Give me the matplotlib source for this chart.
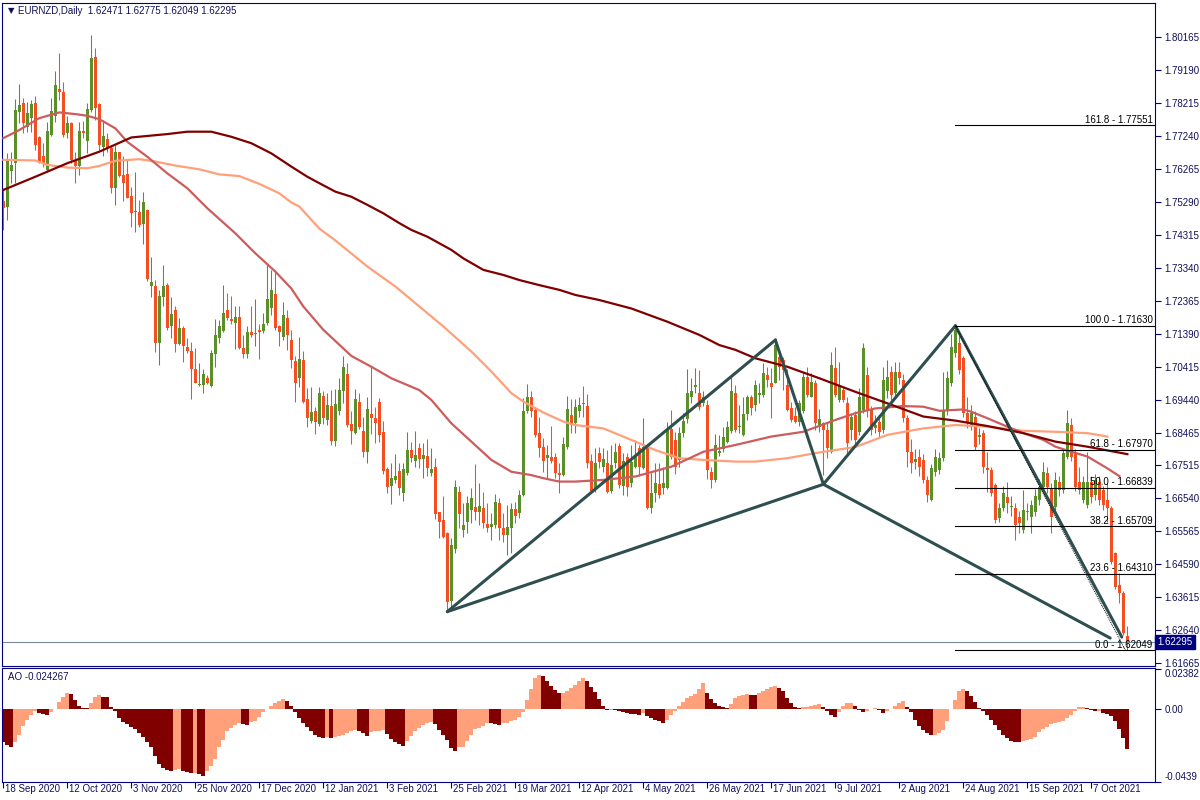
import numpy as np
import matplotlib.pyplot as plt
from matplotlib.transforms import blended_transform_factory

plt.rcParams['font.family'] = ['Liberation Sans', 'DejaVu Sans']

# ---------------- data (EURNZD daily, bar index 0 = 18 Sep 2020) ----------------
opens = [
    1.7530, 1.7515, 1.7621, 1.7643, 1.7793, 1.7820, 1.7751, 1.7776, 1.7820, 1.7720,
    1.7665, 1.7623, 1.7727, 1.7781, 1.7862, 1.7852, 1.7732, 1.7761, 1.7653, 1.7636,
    1.7738, 1.7710, 1.7800, 1.7956, 1.7817, 1.7692, 1.7714, 1.7687, 1.7569, 1.7675,
    1.7607, 1.7610, 1.7546, 1.7498, 1.7500, 1.7464, 1.7505, 1.7281, 1.7279, 1.7111,
    1.7249, 1.7283, 1.7161, 1.7210, 1.7109, 1.7156, 1.7100, 1.7089, 1.7035, 1.6988,
    1.6988, 1.7008, 1.6985, 1.7080, 1.7126, 1.7149, 1.7210, 1.7183, 1.7172, 1.7190,
    1.7097, 1.7079, 1.7144, 1.7139, 1.7151, 1.7149, 1.7172, 1.7215, 1.7257, 1.7161,
    1.7131, 1.7185, 1.7121, 1.7059, 1.7010, 1.7062, 1.6947, 1.6883, 1.6912, 1.6873,
    1.6956, 1.6885, 1.6927, 1.6824, 1.6910, 1.6971, 1.7021, 1.6872, 1.6847, 1.6937,
    1.6853, 1.6791, 1.6903, 1.6890, 1.6937, 1.6850, 1.6740, 1.6690, 1.6708, 1.6735,
    1.6670, 1.6728, 1.6796, 1.6764, 1.6801, 1.6769, 1.6779, 1.6728, 1.6745, 1.6614,
    1.6590, 1.6552, 1.6349, 1.6503, 1.6672, 1.6560, 1.6585, 1.6619, 1.6629, 1.6614,
    1.6626, 1.6578, 1.6570, 1.6575, 1.6641, 1.6567, 1.6545, 1.6567, 1.6622, 1.6611,
    1.6664, 1.6910, 1.6954, 1.6915, 1.6846, 1.6806, 1.6774, 1.6777, 1.6775, 1.6728,
    1.6723, 1.6804, 1.6900, 1.6875, 1.6910, 1.6936, 1.6926, 1.6764, 1.6678, 1.6787,
    1.6747, 1.6757, 1.6676, 1.6759, 1.6808, 1.6691, 1.6775, 1.6698, 1.6747, 1.6801,
    1.6742, 1.6804, 1.6624, 1.6668, 1.6696, 1.6683, 1.6683, 1.6857, 1.6826, 1.6767,
    1.6846, 1.6887, 1.6954, 1.6983, 1.6966, 1.6934, 1.6929, 1.6732, 1.6708, 1.6787,
    1.6798, 1.6821, 1.6853, 1.6964, 1.6863, 1.6841, 1.6902, 1.6954, 1.6929, 1.6959,
    1.6959, 1.7018, 1.6995, 1.6995, 1.7072, 1.7062, 1.6988, 1.6919, 1.6897, 1.6880,
    1.6910, 1.7013, 1.6954, 1.6993, 1.6865, 1.6877, 1.6855, 1.6791, 1.7037, 1.6944,
    1.6973, 1.6936, 1.6855, 1.6900, 1.6850, 1.6914, 1.7018, 1.6914, 1.6860, 1.6880,
    1.6855, 1.6969, 1.7028, 1.6964, 1.7028, 1.7003, 1.6890, 1.6791, 1.6762, 1.6777,
    1.6767, 1.6708, 1.6649, 1.6732, 1.6737, 1.6772, 1.6914, 1.6993, 1.7082, 1.7111,
    1.7067, 1.6905, 1.6870, 1.6895, 1.6836, 1.6846, 1.6742, 1.6737, 1.6693, 1.6595,
    1.6624, 1.6658, 1.6627, 1.6624, 1.6599, 1.6560, 1.6616, 1.6599, 1.6614, 1.6649,
    1.6688, 1.6727, 1.6683, 1.6629, 1.6703, 1.6678, 1.6777, 1.6870, 1.6786, 1.6703,
    1.6649, 1.6634, 1.6703, 1.6663, 1.6703, 1.6678, 1.6649, 1.6624, 1.6491, 1.6398,
    1.6373, 1.62471,
]
highs = [
    1.7569, 1.7672, 1.7677, 1.7832, 1.7877, 1.7835, 1.7825, 1.7830, 1.7842, 1.7722,
    1.7702, 1.7766, 1.7835, 1.7914, 1.7968, 1.7882, 1.7781, 1.7766, 1.7677, 1.7766,
    1.7768, 1.7820, 1.8022, 1.7982, 1.7820, 1.7771, 1.7731, 1.7697, 1.7697, 1.7677,
    1.7665, 1.7651, 1.7574, 1.7618, 1.7535, 1.7559, 1.7507, 1.7367, 1.7298, 1.7269,
    1.7343, 1.7289, 1.7249, 1.7220, 1.7185, 1.7161, 1.7126, 1.7116, 1.7097, 1.7052,
    1.7035, 1.7018, 1.7092, 1.7182, 1.7180, 1.7284, 1.7259, 1.7251, 1.7222, 1.7220,
    1.7136, 1.7161, 1.7220, 1.7241, 1.7168, 1.7200, 1.7348, 1.7328, 1.7328, 1.7166,
    1.7234, 1.7210, 1.7151, 1.7074, 1.7131, 1.7090, 1.6978, 1.6983, 1.6924, 1.6983,
    1.6969, 1.6966, 1.6973, 1.6976, 1.7008, 1.7074, 1.7052, 1.6912, 1.6976, 1.6964,
    1.6895, 1.6954, 1.7042, 1.6924, 1.6949, 1.6882, 1.6747, 1.6757, 1.6785, 1.6757,
    1.6757, 1.6848, 1.6819, 1.6851, 1.6816, 1.6816, 1.6828, 1.6801, 1.6774, 1.6614,
    1.6659, 1.6555, 1.6536, 1.6708, 1.6690, 1.6639, 1.6659, 1.6683, 1.6755, 1.6698,
    1.6673, 1.6639, 1.6609, 1.6665, 1.6654, 1.6609, 1.6634, 1.6639, 1.6644, 1.6678,
    1.6951, 1.6991, 1.6969, 1.6924, 1.6895, 1.6831, 1.6811, 1.6867, 1.6787, 1.6757,
    1.6836, 1.6956, 1.6947, 1.6946, 1.6954, 1.6985, 1.6962, 1.6784, 1.6801, 1.6806,
    1.6801, 1.6796, 1.6811, 1.6818, 1.6816, 1.6787, 1.6787, 1.6811, 1.6826, 1.6811,
    1.6890, 1.6811, 1.6727, 1.6759, 1.6757, 1.6747, 1.6880, 1.6914, 1.6850, 1.6863,
    1.6905, 1.7034, 1.7008, 1.7037, 1.7031, 1.6969, 1.6944, 1.6747, 1.6844, 1.6841,
    1.6863, 1.6883, 1.7013, 1.6988, 1.6929, 1.6954, 1.6959, 1.6959, 1.7003, 1.6995,
    1.7052, 1.7042, 1.7037, 1.7121, 1.7092, 1.7072, 1.7034, 1.6939, 1.6924, 1.6944,
    1.7028, 1.7042, 1.7023, 1.7003, 1.6916, 1.6880, 1.6875, 1.7087, 1.7101, 1.7057,
    1.6983, 1.6952, 1.6903, 1.6910, 1.6980, 1.7111, 1.7040, 1.6925, 1.6900, 1.6900,
    1.7040, 1.7062, 1.7045, 1.7055, 1.7057, 1.7020, 1.6900, 1.6830, 1.6800, 1.6800,
    1.6785, 1.6720, 1.6755, 1.6800, 1.6790, 1.7028, 1.7030, 1.7140, 1.7163, 1.7140,
    1.7075, 1.6954, 1.6930, 1.6910, 1.6860, 1.6855, 1.6791, 1.6745, 1.6700, 1.6640,
    1.6690, 1.6703, 1.6660, 1.6640, 1.6615, 1.6678, 1.6640, 1.6650, 1.6680, 1.6710,
    1.6762, 1.6745, 1.6700, 1.6730, 1.6720, 1.6800, 1.6914, 1.6890, 1.6800, 1.6747,
    1.6720, 1.6791, 1.6720, 1.6725, 1.6720, 1.6690, 1.6698, 1.6630, 1.6495, 1.6432,
    1.6380, 1.62775,
]
lows = [
    1.7446, 1.7475, 1.7584, 1.7584, 1.7763, 1.7731, 1.7736, 1.7736, 1.7682, 1.7643,
    1.7633, 1.7618, 1.7722, 1.7766, 1.7830, 1.7720, 1.7717, 1.7645, 1.7584, 1.7608,
    1.7717, 1.7672, 1.7795, 1.7771, 1.7682, 1.7663, 1.7677, 1.7554, 1.7520, 1.7603,
    1.7530, 1.7539, 1.7456, 1.7441, 1.7456, 1.7405, 1.7296, 1.7249, 1.7085, 1.7047,
    1.7220, 1.7151, 1.7126, 1.7087, 1.7106, 1.7057, 1.7082, 1.6946, 1.6993, 1.6986,
    1.6966, 1.6991, 1.6981, 1.7041, 1.7111, 1.7146, 1.7180, 1.7168, 1.7094, 1.7094,
    1.7067, 1.7067, 1.7131, 1.7104, 1.7064, 1.7141, 1.7166, 1.7195, 1.7151, 1.7104,
    1.7121, 1.7092, 1.7037, 1.6939, 1.6981, 1.6936, 1.6863, 1.6875, 1.6843, 1.6867,
    1.6872, 1.6870, 1.6811, 1.6809, 1.6900, 1.6936, 1.6865, 1.6813, 1.6844, 1.6857,
    1.6777, 1.6757, 1.6844, 1.6818, 1.6821, 1.6726, 1.6668, 1.6636, 1.6700, 1.6664,
    1.6647, 1.6721, 1.6762, 1.6745, 1.6742, 1.6713, 1.6718, 1.6718, 1.6592, 1.6536,
    1.6536, 1.6319, 1.6324, 1.6491, 1.6565, 1.6539, 1.6550, 1.6580, 1.6590, 1.6575,
    1.6565, 1.6555, 1.6531, 1.6565, 1.6531, 1.6526, 1.6486, 1.6491, 1.6580, 1.6595,
    1.6659, 1.6905, 1.6895, 1.6836, 1.6777, 1.6732, 1.6713, 1.6757, 1.6713, 1.6668,
    1.6720, 1.6798, 1.6845, 1.6846, 1.6895, 1.6895, 1.6742, 1.6673, 1.6673, 1.6742,
    1.6732, 1.6668, 1.6668, 1.6742, 1.6683, 1.6664, 1.6661, 1.6688, 1.6742, 1.6718,
    1.6739, 1.6621, 1.6609, 1.6644, 1.6654, 1.6667, 1.6680, 1.6769, 1.6726, 1.6747,
    1.6836, 1.6875, 1.6936, 1.6964, 1.6914, 1.6926, 1.6710, 1.6685, 1.6703, 1.6779,
    1.6791, 1.6816, 1.6846, 1.6850, 1.6846, 1.6838, 1.6885, 1.6900, 1.6910, 1.6934,
    1.6954, 1.6983, 1.6890, 1.6993, 1.7003, 1.6973, 1.6912, 1.6880, 1.6875, 1.6867,
    1.6905, 1.6954, 1.6952, 1.6855, 1.6850, 1.6723, 1.6772, 1.6787, 1.6954, 1.6939,
    1.6939, 1.6782, 1.6826, 1.6811, 1.6840, 1.6905, 1.6895, 1.6840, 1.6845, 1.6835,
    1.6845, 1.6950, 1.6945, 1.6950, 1.6990, 1.6880, 1.6747, 1.6727, 1.6740, 1.6718,
    1.6700, 1.6644, 1.6645, 1.6720, 1.6725, 1.6765, 1.6900, 1.6985, 1.7070, 1.7020,
    1.6895, 1.6860, 1.6855, 1.6795, 1.6815, 1.6727, 1.6673, 1.6660, 1.6580, 1.6585,
    1.6615, 1.6609, 1.6600, 1.6531, 1.6550, 1.6550, 1.6590, 1.6550, 1.6600, 1.6635,
    1.6680, 1.6670, 1.6550, 1.6610, 1.6660, 1.6670, 1.6770, 1.6765, 1.6675, 1.6665,
    1.6640, 1.6625, 1.6640, 1.6650, 1.6635, 1.6620, 1.6585, 1.6460, 1.6385, 1.6344,
    1.6250, 1.62049,
]
closes = [
    1.7512, 1.7653, 1.7638, 1.7800, 1.7815, 1.7763, 1.7790, 1.7818, 1.7697, 1.7648,
    1.7643, 1.7738, 1.7797, 1.7874, 1.7852, 1.7727, 1.7761, 1.7651, 1.7636, 1.7738,
    1.7733, 1.7802, 1.7955, 1.7805, 1.7697, 1.7724, 1.7687, 1.7569, 1.7677, 1.7605,
    1.7586, 1.7541, 1.7497, 1.7501, 1.7461, 1.7528, 1.7300, 1.7293, 1.7111, 1.7251,
    1.7279, 1.7156, 1.7198, 1.7109, 1.7156, 1.7104, 1.7090, 1.7035, 1.6995, 1.6991,
    1.7021, 1.6995, 1.7084, 1.7136, 1.7163, 1.7200, 1.7187, 1.7177, 1.7190, 1.7097,
    1.7079, 1.7144, 1.7136, 1.7142, 1.7146, 1.7168, 1.7241, 1.7269, 1.7156, 1.7146,
    1.7195, 1.7136, 1.7062, 1.6995, 1.7064, 1.6939, 1.6892, 1.6907, 1.6880, 1.6964,
    1.6890, 1.6929, 1.6824, 1.6932, 1.6973, 1.7042, 1.6870, 1.6852, 1.6947, 1.6865,
    1.6791, 1.6917, 1.6892, 1.6877, 1.6841, 1.6735, 1.6688, 1.6715, 1.6720, 1.6685,
    1.6739, 1.6796, 1.6772, 1.6782, 1.6769, 1.6782, 1.6742, 1.6740, 1.6606, 1.6585,
    1.6539, 1.6346, 1.6516, 1.6688, 1.6607, 1.6575, 1.6641, 1.6654, 1.6614, 1.6631,
    1.6582, 1.6567, 1.6578, 1.6644, 1.6567, 1.6545, 1.6570, 1.6622, 1.6600, 1.6664,
    1.6912, 1.6954, 1.6910, 1.6841, 1.6803, 1.6765, 1.6782, 1.6765, 1.6728, 1.6721,
    1.6814, 1.6917, 1.6870, 1.6924, 1.6929, 1.6931, 1.6757, 1.6676, 1.6757, 1.6762,
    1.6769, 1.6673, 1.6752, 1.6791, 1.6693, 1.6764, 1.6688, 1.6762, 1.6779, 1.6747,
    1.6806, 1.6624, 1.6668, 1.6698, 1.6664, 1.6698, 1.6855, 1.6777, 1.6747, 1.6846,
    1.6883, 1.6966, 1.6969, 1.6987, 1.6922, 1.6954, 1.6737, 1.6708, 1.6811, 1.6793,
    1.6834, 1.6863, 1.6969, 1.6855, 1.6867, 1.6902, 1.6954, 1.6919, 1.6988, 1.6964,
    1.7023, 1.7003, 1.6983, 1.7106, 1.7042, 1.7032, 1.6914, 1.6885, 1.6880, 1.6934,
    1.7013, 1.6959, 1.6998, 1.6875, 1.6887, 1.6855, 1.6801, 1.7047, 1.6959, 1.6988,
    1.6944, 1.6816, 1.6895, 1.6826, 1.6954, 1.7096, 1.6914, 1.6855, 1.6870, 1.6850,
    1.7003, 1.7013, 1.6959, 1.7028, 1.7008, 1.6890, 1.6791, 1.6757, 1.6769, 1.6747,
    1.6708, 1.6663, 1.6742, 1.6777, 1.6772, 1.6914, 1.7008, 1.7101, 1.7150, 1.7032,
    1.6905, 1.6875, 1.6905, 1.6806, 1.6841, 1.6747, 1.6737, 1.6668, 1.6590, 1.6624,
    1.6670, 1.6639, 1.6631, 1.6575, 1.6580, 1.6619, 1.6613, 1.6634, 1.6660, 1.6688,
    1.6732, 1.6688, 1.6599, 1.6708, 1.6678, 1.6786, 1.6875, 1.6777, 1.6688, 1.6678,
    1.6703, 1.6703, 1.6658, 1.6708, 1.6649, 1.6634, 1.6624, 1.6467, 1.6393, 1.6373,
    1.6255, 1.62295,
]

# moving averages, sampled at bar indices
ma_slow_idx = [0, 8, 16, 24, 32, 41, 46, 52, 57, 62, 67, 72, 76, 79, 83, 87, 91, 95, 99, 102,
               106, 112, 115, 120, 125, 129, 134, 139, 143, 149, 157, 166, 174, 179, 183, 188,
               196, 204, 213, 221, 230, 238, 246, 255, 263, 271, 281]
ma_slow_val = [1.7564, 1.7603, 1.7643, 1.7677, 1.7719, 1.7729, 1.7736, 1.7736, 1.7721, 1.7702,
               1.7672, 1.7633, 1.7603, 1.7584, 1.7559, 1.7544, 1.7520, 1.7495, 1.7466, 1.7446,
               1.7426, 1.7387, 1.7362, 1.7328, 1.7313, 1.7298, 1.7283, 1.7269, 1.7254, 1.7239,
               1.7214, 1.7175, 1.7136, 1.7106, 1.7092, 1.7067, 1.7042, 1.7008, 1.6968, 1.6934,
               1.6895, 1.6883, 1.6867, 1.6846, 1.6821, 1.6806, 1.6784]
ma_fast_idx = [0, 4, 9, 14, 18, 21, 24, 28, 31, 36, 41, 46, 51, 58, 63, 68, 72, 75, 80, 87,
               92, 97, 104, 107, 112, 117, 122, 127, 132, 135, 139, 143, 150, 158, 167, 175,
               183, 192, 200, 208, 213, 218, 225, 230, 234, 240, 242, 246, 250, 255, 260,
               263, 267, 271, 276, 279]
ma_fast_val = [1.7717, 1.7741, 1.7776, 1.7793, 1.7788, 1.7783, 1.7773, 1.7746, 1.7706, 1.7662,
               1.7613, 1.7569, 1.7510, 1.7436, 1.7377, 1.7323, 1.7273, 1.7220, 1.7151, 1.7074,
               1.7042, 1.7008, 1.6973, 1.6944, 1.6875, 1.6821, 1.6767, 1.6732, 1.6722, 1.6713,
               1.6703, 1.6703, 1.6708, 1.6718, 1.6747, 1.6791, 1.6811, 1.6836, 1.6850, 1.6885,
               1.6905, 1.6919, 1.6926, 1.6924, 1.6912, 1.6916, 1.6909, 1.6890, 1.6870, 1.6846,
               1.6826, 1.6806, 1.6791, 1.6777, 1.6742, 1.6719]
ma_mid_idx = [0, 8, 11, 16, 21, 24, 28, 34, 38, 43, 49, 54, 59, 64, 69, 72, 74, 79, 83, 91,
              98, 104, 110, 117, 122, 127, 130, 135, 140, 143, 150, 158, 163, 169, 175, 183,
              188, 196, 204, 213, 221, 230, 238, 246, 255, 263, 271, 276]
ma_mid_val = [1.7653, 1.7651, 1.7638, 1.7630, 1.7628, 1.7635, 1.7650, 1.7655, 1.7648, 1.7636,
              1.7625, 1.7610, 1.7605, 1.7582, 1.7554, 1.7527, 1.7515, 1.7450, 1.7415, 1.7338,
              1.7279, 1.7220, 1.7161, 1.7087, 1.7028, 1.6964, 1.6939, 1.6907, 1.6880, 1.6870,
              1.6860, 1.6821, 1.6796, 1.6772, 1.6767, 1.6762, 1.6762, 1.6772, 1.6789, 1.6805,
              1.6841, 1.6860, 1.6870, 1.6865, 1.6853, 1.6850, 1.6846, 1.6836]

# Awesome Oscillator, in units of 1e-4
ao_e4 = [
    -202, -216, -232, -202, -156, -102, -68, -36, -16, -26,
    -32, -40, -22, -2, 42, 72, 94, 88, 52, 18,
    4, 2, 32, 68, 84, 72, 68, 12, -16, -56,
    -78, -92, -108, -122, -148, -172, -202, -232, -282, -332,
    -356, -368, -372, -368, -364, -372, -382, -388, -384, -392,
    -402, -376, -342, -302, -232, -188, -132, -116, -96, -86,
    -92, -98, -82, -72, -48, -20, -2, 16, 32, 48,
    58, 44, 16, -22, -56, -88, -112, -136, -158, -172,
    -178, -172, -178, -172, -166, -156, -146, -136, -128, -136,
    -148, -162, -142, -134, -132, -130, -152, -184, -202, -212,
    -222, -192, -162, -136, -116, -96, -86, -82, -92, -128,
    -156, -188, -236, -252, -232, -228, -192, -156, -124, -116,
    -102, -86, -88, -92, -96, -88, -86, -76, -68, -52,
    -22, 52, 118, 184, 204, 198, 164, 138, 112, 92,
    94, 108, 124, 142, 168, 184, 164, 132, 98, 58,
    18, -8, -6, -10, -12, -18, -24, -30, -34, -38,
    -28, -42, -56, -68, -76, -84, -66, -36, -12, 16,
    42, 64, 78, 88, 118, 152, 92, 58, 32, 16,
    8, 2, 28, 64, 76, 82, 86, 84, 82, 92,
    108, 118, 128, 138, 124, 108, 64, 32, 12, 6,
    8, 12, 16, 22, 26, 8, -16, -36, -48, -22,
    16, 32, 36, 18, -8, -22, -16, 0, 4, -8,
    -24, -16, -2, 18, 34, 44, 12, -22, -68, -102,
    -128, -148, -158, -156, -144, -128, -72, -2, 52, 104,
    116, 108, 78, 42, 2, -12, -36, -68, -96, -128,
    -158, -178, -192, -198, -202, -196, -190, -182, -168, -142,
    -122, -108, -92, -84, -80, -72, -56, -36, -16, 8,
    12, 4, -8, -16, -12, -24, -32, -42, -72, -122,
    -176, -242.67,
]

# pattern pivots X, A, B, C (bar index, price) and the two D ends
pattern_idx = [111, 193, 205, 238]
pattern_val = [1.6319, 1.7121, 1.6695, 1.7163]
d_cd = (279.6, 1.6244)
d_bd = (276.7, 1.6241)

fib_pct = ['161.8', '100.0', '61.8', '50.0', '38.2', '23.6', '0.0']
fib_price = [1.77551, 1.71630, 1.67970, 1.66839, 1.65709, 1.64310, 1.62049]
fib_start = 238
fib_end = 280.5

price_ticks = [1.80165, 1.79190, 1.78215, 1.77240, 1.76265, 1.75290, 1.74315, 1.73340,
               1.72365, 1.71390, 1.70415, 1.69440, 1.68465, 1.67515, 1.66540, 1.65565,
               1.64590, 1.63615, 1.62640, 1.61665]
last_price = 1.62295

date_labels = ['18 Sep 2020', '12 Oct 2020', '3 Nov 2020', '25 Nov 2020', '17 Dec 2020',
               '12 Jan 2021', '3 Feb 2021', '25 Feb 2021', '19 Mar 2021', '12 Apr 2021',
               '4 May 2021', '26 May 2021', '17 Jun 2021', '9 Jul 2021', '2 Aug 2021',
               '24 Aug 2021', '15 Sep 2021', '7 Oct 2021']
date_step = 16

NAVY = '#000080'
TXT = '#10105a'
BULL = '#5b8f29'
BEAR = '#f34f23'
PATTERN = '#2f4f4f'


def main():
    fig = plt.figure(figsize=(12, 8), dpi=100)
    ax = fig.add_axes([2 / 1200, 1 - 666 / 800, 1153 / 1200, 663 / 800])
    ax2 = fig.add_axes([2 / 1200, 1 - 782 / 800, 1153 / 1200, 114 / 800])
    xlim = (-0.33, 287.9)

    o = np.array(opens)
    h = np.array(highs)
    l = np.array(lows)
    c = np.array(closes)
    x = np.arange(len(o))
    cols = np.where(c >= o, BULL, BEAR)

    # ---------------- price panel ----------------
    ax.axhline(last_price, color='#778899', lw=0.8, zorder=1)
    ax.vlines(x, l, h, colors=cols, lw=0.75, zorder=2)
    body_h = np.maximum(np.abs(c - o), 0.00028)
    ax.bar(x, body_h, bottom=np.minimum(o, c), width=0.72, color=cols, lw=0, zorder=2)

    ax.plot(ma_mid_idx, ma_mid_val, color='#ffa07a', lw=1.6, zorder=3)
    ax.plot(ma_fast_idx, ma_fast_val, color='#cd5c5c', lw=1.6, zorder=3)
    ax.plot(ma_slow_idx, ma_slow_val, color='#800000', lw=1.6, zorder=3)

    X, A, B, C = zip(pattern_idx, pattern_val)
    for p, q in [(X, A), (A, B), (B, C), (X, B), (C, d_cd), (B, d_bd)]:
        ax.plot([p[0], q[0]], [p[1], q[1]], color=PATTERN, lw=2.2,
                solid_capstyle='round', zorder=4)

    # fibonacci retracement
    ax.plot([fib_start, fib_end], [fib_price[1], fib_price[-1]], color='black',
            lw=0.7, ls=(0, (1, 1)), zorder=5)
    for pct, pr in zip(fib_pct, fib_price):
        ax.plot([fib_start, xlim[1]], [pr, pr], color='black', lw=0.8, zorder=5)
        ax.text(xlim[1] - 0.6, pr + 0.0002, f'{pct} - {pr:.5f}', ha='right', va='bottom',
                fontsize=7, color='black', zorder=6)

    ax.set_xlim(*xlim)
    ax.set_ylim(1.61585, 1.81160)
    ax.set_xticks([])
    ax.yaxis.tick_right()
    ax.set_yticks(price_ticks)
    ax.set_yticklabels([f'{v:.5f}' for v in price_ticks])
    ax.tick_params(axis='y', length=4, width=0.8, color=NAVY, labelsize=7,
                   labelcolor=TXT, pad=3)
    tr = blended_transform_factory(ax.transAxes, ax.transData)
    ax.text(1.002, last_price, f'{last_price:.5f}', transform=tr, ha='left', va='center',
            fontsize=7, color='white',
            bbox=dict(boxstyle='square,pad=0.22', fc=NAVY, ec=NAVY))

    # ---------------- AO panel ----------------
    ao = np.array(ao_e4) * 1e-4
    ao_cols = ['#800000'] + ['#ffa07a' if ao[i] > ao[i - 1] else '#800000'
                             for i in range(1, len(ao))]
    ax2.bar(np.arange(len(ao)), ao, width=1.0, color=ao_cols, lw=0)
    ax2.set_xlim(*xlim)
    ax2.set_ylim(-0.0440, 0.0244)
    ax2.yaxis.tick_right()
    ax2.set_yticks([0.02382, 0.0, -0.0439])
    ax2.set_yticklabels(['0.02382', '0.00', '-0.0439'])
    ax2.tick_params(axis='y', length=4, width=0.8, color=NAVY, labelsize=7,
                    labelcolor=TXT, pad=3)
    lbls = ax2.get_yticklabels()
    lbls[0].set_va('top')
    lbls[-1].set_va('bottom')
    ax2.text(0.005, 0.92, 'AO -0.024267', transform=ax2.transAxes, fontsize=7,
             color=TXT, va='center')

    ticks = [i * date_step for i in range(len(date_labels))]
    ax2.set_xticks(ticks)
    ax2.set_xticklabels([])
    ax2.tick_params(axis='x', length=4, width=0.8, color=NAVY)
    trx = blended_transform_factory(ax2.transData, ax2.transAxes)
    for t, lab in zip(ticks, date_labels):
        ax2.text(t + 0.4, -0.02, lab, transform=trx, ha='left', va='top',
                 fontsize=7, color=TXT)

    for a in (ax, ax2):
        for s in a.spines.values():
            s.set_color(NAVY)
            s.set_linewidth(0.8)

    fig.text(8 / 1200, 1 - 10.5 / 800, '\u25bc', fontsize=6, color=TXT, va='center',
             family='DejaVu Sans')
    fig.text(18 / 1200, 1 - 10.5 / 800, 'EURNZD,Daily  1.62471 1.62775 1.62049 1.62295',
             fontsize=7, color=TXT, va='center')

    fig.savefig('out.png', dpi=100, facecolor='white')
    plt.close(fig)


if __name__ == '__main__':
    main()
